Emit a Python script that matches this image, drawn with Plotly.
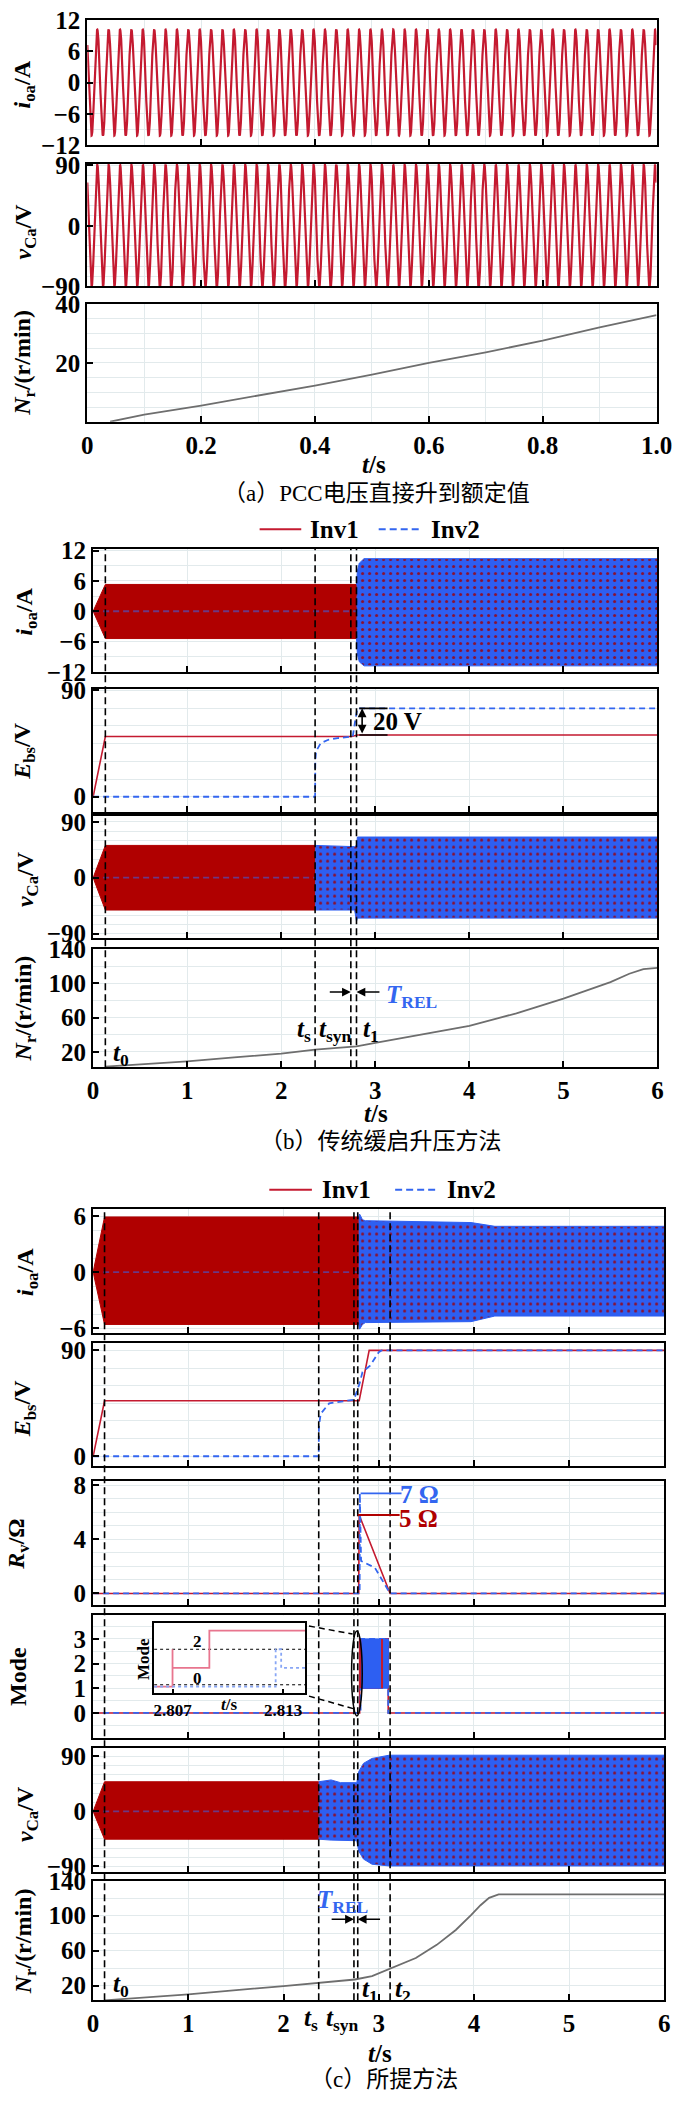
import numpy as np
import plotly.graph_objects as go

W, H = 688, 2107
FONT = "'Liberation Serif', 'Times New Roman', 'Noto Sans CJK SC', serif"
RED = "#c41a30"
RED_BAND = "#b00000"
BLUE = "#3366f0"
BLUE_BAND = "#2d5ff2"
GRAY = "#6e6e6e"
GRID = "#e2eaec"

# ---------------- (a) PCC voltage raised directly ----------------
a_freq = 50.0            # Hz
a_i_amp = 10.2           # A
a_v_amp = 91.0           # V
a_peak_t = 0.0175        # s, time of first peak
a_Nr_t = [0.04, 0.1, 0.2, 0.3, 0.4, 0.5, 0.6, 0.7, 0.8, 0.9, 1.0]
a_Nr = [0.0, 2.4, 5.5, 8.9, 12.3, 16.0, 20.0, 23.6, 27.6, 32.1, 36.3]

# ---------------- (b) conventional soft start ----------------
b_events = [0.13, 2.36, 2.74, 2.80]          # t0, ts, tsyn, t1
b_i1_t = [0, 0.13, 2.80]
b_i1_up = [0, 5.3, 5.3]
b_i1_lo = [0, -5.4, -5.4]
b_i2_zero_t = [0, 2.80]
b_i2_t = [2.80, 2.81, 2.83, 2.88, 6.0]
b_i2_up = [5.3, 8.0, 9.5, 10.4, 10.4]
b_i2_lo = [-5.4, -8.5, -10.0, -10.8, -10.8]
b_E1_t = [0, 0.13, 2.75, 2.81, 6.0]
b_E1 = [0, 51, 51, 52.3, 52.3]
b_E2_t = [0, 2.36, 2.362, 2.37, 2.42, 2.50, 2.60, 2.73, 2.76, 2.79, 2.81, 6.0]
b_E2 = [0, 0, 30, 38.4, 45.4, 48.2, 49.6, 50.5, 51, 66, 74.8, 74.8]
b_v1_t = [0, 0.13, 2.36]
b_v1_up = [0, 52, 52]
b_v1_lo = [0, -52, -52]
b_v2_zero_t = [0, 2.36]
b_v2_t = [2.36, 2.78, 2.80, 2.81, 6.0]
b_v2_up = [52, 50, 52, 65.5, 65.5]
b_v2_lo = [-52, -52, -70, -65, -65]
b_Nr_t = [0.13, 0.5, 1.0, 1.5, 2.0, 2.36, 2.8, 3.0, 3.5, 4.0, 4.5, 5.0, 5.25, 5.5, 5.7, 5.85, 6.0]
b_Nr = [2.8, 5.5, 8.9, 13.5, 18.0, 22.7, 26.5, 30.4, 40.0, 50.3, 64.9, 82.0, 91.7, 101.3, 111.0, 116.5, 117.8]

# ---------------- (c) proposed method ----------------
c_events = [0.12, 2.37, 2.74, 2.78, 3.12]    # t0, ts, tsyn, t1, t2
c_i1_t = [0, 0.12, 2.79]
c_i1_up = [0, 5.9, 5.9]
c_i1_lo = [0, -5.6, -5.6]
c_i2_zero_t = [0, 2.79]
c_i2_t = [2.79, 2.80, 2.83, 2.86, 3.97, 4.22, 6.0]
c_i2_up = [5.9, 6.2, 5.6, 5.5, 5.3, 4.9, 4.9]
c_i2_lo = [-5.6, -6.1, -5.6, -5.4, -5.3, -4.7, -4.7]
c_E1_t = [0, 0.12, 2.795, 2.90, 6.0]
c_E1 = [0, 47.2, 47.2, 90, 90]
c_E2_t = [0, 2.37, 2.372, 2.39, 2.48, 2.66, 2.74, 2.80, 2.83, 2.91, 3.0, 3.03, 6.0]
c_E2 = [0, 0, 25, 36, 45, 47, 48, 62, 71.7, 77, 88.4, 90, 90]
c_R1_t = [0, 2.79, 2.795, 3.12, 6.0]
c_R1 = [0, 0, 5.8, 0, 0]
c_R2_t = [0, 2.80, 2.802, 2.815, 2.96, 3.12, 6.0]
c_R2 = [0, 0, 7.4, 2.4, 1.9, 0, 0]
c_M1_t = [0, 2.80, 2.80, 2.815, 2.815, 3.035, 3.035, 3.10, 3.10, 6.0]
c_M1 = [0, 0, 3, 3, 1, 1, 3, 3, 0, 0]
c_M2_t = [0, 2.81, 2.81, 3.10, 3.10, 6.0]
c_M2 = [0, 0, 3, 3, 0, 0]
c_M2_band_t = [2.81, 3.10]
c_M2_band_lo = [1, 1]
c_M2_band_hi = [3, 3]
c_M1_marks_t = [2.806, 2.806, None, 3.035, 3.035]
c_M1_marks = [1, 3, None, 1, 3]
c_v1_t = [0, 0.12, 2.37]
c_v1_up = [0, 48.5, 48.5]
c_v1_lo = [0, -45.5, -45.5]
c_v2_zero_t = [0, 2.37]
c_v2_t = [2.37, 2.50, 2.60, 2.77, 2.79, 2.84, 2.93, 3.11, 6.0]
c_v2_up = [48.5, 51.5, 47, 47, 65, 78.6, 86.7, 92, 92]
c_v2_lo = [-45.5, -47, -48, -48, -65, -78, -86.5, -89.3, -89.3]
c_Nr_t = [0.12, 1.0, 2.0, 2.37, 2.75, 2.93, 3.12, 3.39, 3.61, 3.81, 3.97, 4.07, 4.16, 4.26, 6.0]
c_Nr = [3.3, 10.1, 19.6, 23.4, 27.1, 30.9, 39.6, 51.7, 66.7, 83.7, 100.7, 112.0, 120.4, 124.5, 124.5]

# inset of Mode
ins_M1_t = [2.806, 2.807, 2.807, 2.807, 2.809, 2.809, 2.8142]
ins_M1 = [0, 0, 2, 1, 1, 3, 3]
ins_M2_t = [2.806, 2.8126, 2.8126, 2.8129, 2.8129, 2.8142]
ins_M2 = [0, 0, 2, 2, 1, 1]
ins_ref_levels = [2.0, 0.1]

# ---------------- helpers ----------------
fig = go.Figure()
layout = {}
anns = []
shapes = []


def sfx(n):
    return '' if n == 1 else str(n)


def PX(x):
    return x / W


def PY(y):
    return 1 - y / H


def tick_font(size=25):
    return dict(family=FONT, size=size, color='black', weight='bold')


def make_axes(n, xpx, ypx, xr, yr, xticks, xtext, yticks, ytext, show_x=False,
              xminor=None, yminor=None, size=25, grid=True):
    s = sfx(n)
    xa = dict(domain=[PX(xpx[0]), PX(xpx[1])], range=xr, anchor='y' + s,
              showline=True, mirror=True, linecolor='black', linewidth=2,
              ticks='inside', ticklen=6, tickwidth=1.5, tickcolor='black',
              tickmode='array', tickvals=xticks, ticktext=xtext,
              showticklabels=show_x, tickfont=tick_font(size),
              showgrid=grid, gridcolor=GRID, gridwidth=1, zeroline=False)
    if xminor is not None and grid:
        xa['minor'] = dict(dtick=xminor, showgrid=True, gridcolor=GRID, gridwidth=1)
    ya = dict(domain=[PY(ypx[1]), PY(ypx[0])], range=yr, anchor='x' + s,
              showline=True, mirror=True, linecolor='black', linewidth=2,
              ticks='inside', ticklen=6, tickwidth=1.5, tickcolor='black',
              tickmode='array', tickvals=yticks, ticktext=ytext,
              tickfont=tick_font(size),
              showgrid=grid, gridcolor=GRID, gridwidth=1, zeroline=False)
    if yminor is not None and grid:
        ya['minor'] = dict(dtick=yminor, showgrid=True, gridcolor=GRID, gridwidth=1)
    layout['xaxis' + s] = xa
    layout['yaxis' + s] = ya


def line(n, x, y, color, width=1.8, dash=None, opacity=1.0):
    fig.add_trace(go.Scatter(x=x, y=y, mode='lines',
                             line=dict(color=color, width=width, dash=dash),
                             opacity=opacity, xaxis='x' + sfx(n), yaxis='y' + sfx(n),
                             showlegend=False, hoverinfo='skip'))


def band(n, t, up, lo, color, pattern=None):
    x = list(t) + list(t)[::-1]
    y = list(up) + list(lo)[::-1]
    kw = {}
    if pattern:
        kw['fillpattern'] = pattern
    fig.add_trace(go.Scatter(x=x, y=y, mode='lines', fill='toself', fillcolor=color,
                             line=dict(color=color, width=1),
                             xaxis='x' + sfx(n), yaxis='y' + sfx(n),
                             showlegend=False, hoverinfo='skip', **kw))


def text(x, y, s, size=25, color='black', angle=0, weight='bold'):
    anns.append(dict(x=PX(x), y=PY(y), xref='paper', yref='paper', text=s,
                     showarrow=False, textangle=angle, xanchor='center', yanchor='middle',
                     font=dict(family=FONT, size=size, color=color, weight=weight)))


def dtext(n, x, y, s, size=25, color='black'):
    anns.append(dict(x=x, y=y, xref='x' + sfx(n), yref='y' + sfx(n), text=s,
                     showarrow=False, xanchor='center', yanchor='middle',
                     font=dict(family=FONT, size=size, color=color, weight='bold')))


def arrow(n, x_head, y_head, x_tail, y_tail, both=False):
    anns.append(dict(x=x_head, y=y_head, ax=x_tail, ay=y_tail,
                     xref='x' + sfx(n), yref='y' + sfx(n), axref='x' + sfx(n), ayref='y' + sfx(n),
                     text='', showarrow=True, arrowhead=2, arrowsize=1.1, arrowwidth=1.6,
                     arrowcolor='black', arrowside='end+start' if both else 'end'))


def seg(n, x0, y0, x1, y1, color='black', width=1.6, dash=None):
    shapes.append(dict(type='line', xref='x' + sfx(n), yref='y' + sfx(n),
                       x0=x0, y0=y0, x1=x1, y1=y1,
                       line=dict(color=color, width=width, dash=dash), layer='above'))


blue_pattern = dict(shape='.', fgcolor='#8a1030', bgcolor=BLUE_BAND, size=7,
                    solidity=0.15, fillmode='replace')

# ---------------- axes ----------------
A_X = (84, 672)
B_X = (90, 673)
C_X = (90, 680)
a_xt = [0, 0.2, 0.4, 0.6, 0.8, 1.0]
a_xtxt = ['0', '0.2', '0.4', '0.6', '0.8', '1.0']
bc_xt = [0, 1, 2, 3, 4, 5, 6]
bc_xtxt = [str(v) for v in bc_xt]

make_axes(1, A_X, (7, 134), [0, 1], [-12.05, 12.05], a_xt, a_xtxt,
          [-12, -6, 0, 6, 12], ['−12', '−6', '0', '6', '12'], xminor=0.1, yminor=3)
make_axes(2, A_X, (153, 277), [0, 1], [-90.3, 92], a_xt, a_xtxt,
          [-90, 0, 90], ['−90', '0', '90'], xminor=0.1, yminor=15)
make_axes(3, A_X, (295, 414), [0, 1], [0, 40], a_xt, a_xtxt,
          [20, 40], ['20', '40'], show_x=True, xminor=0.1, yminor=5)

make_axes(4, B_X, (543, 668), [0, 6], [-12.1, 12.3], bc_xt, bc_xtxt,
          [-12, -6, 0, 6, 12], ['−12', '−6', '0', '6', '12'], yminor=3)
make_axes(5, B_X, (685, 809), [0, 6], [-12.6, 91], bc_xt, bc_xtxt,
          [0, 90], ['0', '90'], yminor=15)
make_axes(6, B_X, (813, 937), [0, 6], [-97, 100], bc_xt, bc_xtxt,
          [-90, 0, 90], ['−90', '0', '90'], yminor=15)
make_axes(7, B_X, (948, 1068), [0, 6], [2, 140], bc_xt, bc_xtxt,
          [20, 60, 100, 140], ['20', '60', '100', '140'], show_x=True, yminor=20)

make_axes(8, C_X, (1212, 1337), [0, 6], [-6.5, 6.7], bc_xt, bc_xtxt,
          [-6, 0, 6], ['−6', '0', '6'], yminor=1.5)
make_axes(9, C_X, (1347, 1472), [0, 6], [-8.4, 96.5], bc_xt, bc_xtxt,
          [0, 90], ['0', '90'], yminor=15)
make_axes(10, C_X, (1487, 1613), [0, 6], [-0.88, 8.32], bc_xt, bc_xtxt,
          [0, 4, 8], ['0', '4', '8'], yminor=1)
make_axes(11, C_X, (1623, 1747), [0, 6], [-1.0, 3.96], bc_xt, bc_xtxt,
          [0, 1, 2, 3], ['0', '1', '2', '3'], yminor=0.5)
make_axes(12, C_X, (1758, 1883), [0, 6], [-99, 103], bc_xt, bc_xtxt,
          [-90, 0, 90], ['−90', '0', '90'], yminor=15)
make_axes(13, C_X, (1892, 2013), [0, 6], [3.4, 140], bc_xt, bc_xtxt,
          [20, 60, 100, 140], ['20', '60', '100', '140'], show_x=True, yminor=20)

# inset
make_axes(14, (153, 309), (1631, 1702), [2.806, 2.8142], [-0.35, 3.4],
          [2.807, 2.813], ['2.807', '2.813'], [], [], show_x=True, size=17, grid=False)
layout['yaxis14']['ticks'] = ''
layout['yaxis14']['showticklabels'] = False
layout['xaxis14']['ticklen'] = 4

# ---------------- (a) traces ----------------
a_t = np.linspace(0, 1, 8001)
phase = 2 * np.pi * a_freq * (a_t - a_peak_t)
line(1, a_t, a_i_amp * np.cos(phase), RED, width=2.2)
line(2, a_t, a_v_amp * np.cos(phase), RED, width=2.2)
line(3, a_Nr_t, a_Nr, GRAY, width=1.8)

# ---------------- (b) traces ----------------
band(4, b_i1_t, b_i1_up, b_i1_lo, RED_BAND)
line(4, b_i2_zero_t, [0, 0], BLUE, width=1.8, dash='6px,4px', opacity=0.55)
band(4, b_i2_t, b_i2_up, b_i2_lo, BLUE_BAND, pattern=blue_pattern)

line(5, b_E1_t, b_E1, RED, width=1.6)
line(5, b_E2_t, b_E2, BLUE, width=1.8, dash='6px,4px')

band(6, b_v1_t, b_v1_up, b_v1_lo, RED_BAND)
line(6, b_v2_zero_t, [0, 0], BLUE, width=1.8, dash='6px,4px', opacity=0.55)
band(6, b_v2_t, b_v2_up, b_v2_lo, BLUE_BAND, pattern=blue_pattern)

line(7, b_Nr_t, b_Nr, GRAY, width=1.8)

# ---------------- (c) traces ----------------
band(8, c_i1_t, c_i1_up, c_i1_lo, RED_BAND)
line(8, c_i2_zero_t, [0, 0], BLUE, width=1.8, dash='6px,4px', opacity=0.55)
band(8, c_i2_t, c_i2_up, c_i2_lo, BLUE_BAND, pattern=blue_pattern)

line(9, c_E1_t, c_E1, RED, width=1.6)
line(9, c_E2_t, c_E2, BLUE, width=1.8, dash='6px,4px')

line(10, c_R1_t, c_R1, RED, width=1.6)
line(10, c_R2_t, c_R2, BLUE, width=1.8, dash='6px,4px')

# white backing under the inset
shapes.append(dict(type='rect', xref='x11', yref='y11', x0=(153 - 90) / 98.33, x1=(309 - 90) / 98.33,
                   y0=0.55, y1=3.96, fillcolor='white', line=dict(width=0), layer='between'))
line(11, c_M1_t, c_M1, RED, width=1.6)
line(11, c_M2_t, c_M2, BLUE, width=1.8, dash='6px,4px')
band(11, c_M2_band_t, c_M2_band_hi, c_M2_band_lo, BLUE_BAND)
line(11, c_M1_marks_t, c_M1_marks, RED, width=2)

band(12, c_v1_t, c_v1_up, c_v1_lo, RED_BAND)
line(12, c_v2_zero_t, [0, 0], BLUE, width=1.8, dash='6px,4px', opacity=0.55)
band(12, c_v2_t, c_v2_up, c_v2_lo, BLUE_BAND, pattern=blue_pattern)

line(13, c_Nr_t, c_Nr, GRAY, width=1.8)

# inset traces
for lv in ins_ref_levels:
    line(14, [2.806, 2.8142], [lv, lv], 'black', width=1, dash='dot')
line(14, ins_M1_t, ins_M1, '#e8758e', width=1.8)
line(14, ins_M2_t, ins_M2, '#88a6f5', width=1.8, dash='dot')

# ---------------- event dashed lines ----------------
for t in b_events:
    shapes.append(dict(type='line', xref='x4', yref='paper', x0=t, x1=t,
                       y0=PY(1068), y1=PY(543), line=dict(color='black', width=1.6, dash='7px,4px'),
                       layer='above'))
for t in c_events:
    shapes.append(dict(type='line', xref='x8', yref='paper', x0=t, x1=t,
                       y0=PY(2013), y1=PY(1212), line=dict(color='black', width=1.6, dash='7px,4px'),
                       layer='above'))

# inset connectors and ellipse
shapes.append(dict(type='line', xref='paper', yref='paper', x0=PX(313), y0=PY(1634), x1=PX(358), y1=PY(1642),
                   line=dict(color='black', width=1.5, dash='6px,4px')))
shapes.append(dict(type='line', xref='paper', yref='paper', x0=PX(313), y0=PY(1705), x1=PX(360), y1=PY(1718),
                   line=dict(color='black', width=1.5, dash='6px,4px')))
shapes.append(dict(type='circle', xref='paper', yref='paper', x0=PX(357), x1=PX(368), y0=PY(1725), y1=PY(1639),
                   line=dict(color='black', width=1.5)))

# ---------------- legends ----------------
for (yy, r0, r1, t1x, b0, b1, t2x) in [(523, 262, 305, 339, 385, 429, 464),
                                        (1192, 272, 316, 352, 402, 446, 481)]:
    shapes.append(dict(type='line', xref='paper', yref='paper', x0=PX(r0), x1=PX(r1), y0=PY(yy), y1=PY(yy),
                       line=dict(color=RED, width=2)))
    shapes.append(dict(type='line', xref='paper', yref='paper', x0=PX(b0), x1=PX(b1), y0=PY(yy), y1=PY(yy),
                       line=dict(color=BLUE, width=2, dash='7px,4px')))
    text(t1x, yy, 'Inv1', size=25)
    text(t2x, yy, 'Inv2', size=25)

# ---------------- axis titles ----------------
IOA = '<i>i</i><sub>oa</sub>/A'
VCA = '<i>v</i><sub>Ca</sub>/V'
NR = '<i>N</i><sub>r</sub>/(r/min)'
EBS = '<i>E</i><sub>bs</sub>/V'
for (x, y, s) in [(19, 72, IOA), (20, 221, VCA), (19, 354, NR),
                  (21, 606, IOA), (19, 747, EBS), (21, 877, VCA), (20, 1008, NR),
                  (21, 1275, IOA), (19, 1413, EBS), (13, 1551, '<i>R</i><sub>v</sub>/Ω'),
                  (13, 1685, 'Mode'), (21, 1824, VCA), (20, 1953, NR)]:
    text(x, y, s, size=24, angle=-90)

# x titles and captions
text(380, 457, '<i>t</i>/s', size=25)
text(382, 1115, '<i>t</i>/s', size=25)
text(386, 2067, '<i>t</i>/s', size=25)
text(383, 487, '（a）PCC电压直接升到额定值', size=23, weight='normal')
text(387, 1143, '（b）传统缓启升压方法', size=23, weight='normal')
text(391, 2093, '（c）所提方法', size=23, weight='normal')

# ---------------- annotations (b) ----------------
TS = '<i>t</i><sub>s</sub>'
TSYN = '<i>t</i><sub>syn</sub>'
T0 = '<i>t</i><sub>0</sub>'
T1 = '<i>t</i><sub>1</sub>'
T2 = '<i>t</i><sub>2</sub>'
TREL = '<i>T</i><sub>REL</sub>'

dtext(7, 0.30, 17, T0)
dtext(7, 2.24, 45, TS)
dtext(7, 2.58, 45, TSYN)
dtext(7, 2.95, 45, T1)
arrow(7, b_events[2], 89.7, 2.50, 89.7)
arrow(7, b_events[3], 89.7, 3.06, 89.7)
dtext(7, 3.38, 84, TREL, color=BLUE)

arrow(5, 2.86, 74.8, 2.86, 52.3, both=True)
seg(5, 2.83, 74.8, 3.13, 74.8)
seg(5, 2.83, 52.3, 3.13, 52.3)
dtext(5, 3.24, 63.9, '20 V')

# ---------------- annotations (c) ----------------
seg(10, 2.81, 7.4, 3.24, 7.4, color=BLUE, width=1.8)
seg(10, 2.78, 5.8, 3.22, 5.8, color=RED_BAND, width=1.8)
dtext(10, 3.43, 7.3, '7 Ω', color=BLUE)
dtext(10, 3.42, 5.57, '5 Ω', color=RED_BAND)

text(198, 1650, '2', size=17)
text(198, 1687, '0', size=17)
text(142, 1667, 'Mode', size=17, angle=-90)
text(230, 1713, '<i>t</i>/s', size=17)

dtext(13, 0.29, 20.3, T0)
dtext(13, 2.91, 14.7, T1)
dtext(13, 3.26, 14.7, T2)
dtext(13, 2.62, 116.3, TREL, color=BLUE)
arrow(13, c_events[2], 96, 2.49, 96)
arrow(13, c_events[3], 96, 3.03, 96)
text(315, 2033, TS, size=25)
text(348, 2033, TSYN, size=25)

fig.update_layout(width=W, height=H, margin=dict(l=0, r=0, t=0, b=0),
                  paper_bgcolor='white', plot_bgcolor='white',
                  showlegend=False, annotations=anns, shapes=shapes,
                  font=dict(family=FONT, size=25, color='black'), **layout)
fig.write_html("out.html")
